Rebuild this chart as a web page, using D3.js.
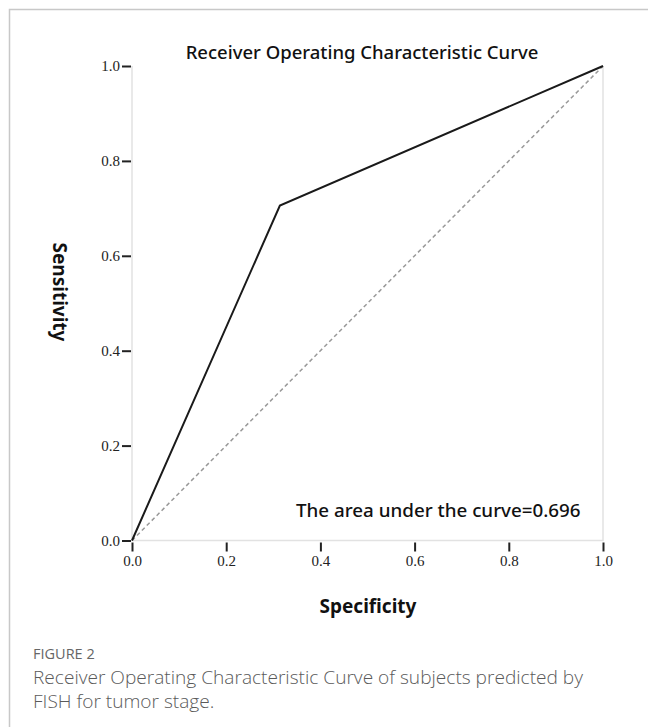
<!DOCTYPE html>
<html>
<head>
<meta charset="utf-8">
<script src="https://cdn.jsdelivr.net/npm/d3@7"></script>
<style>
  body { margin: 0; background: #fff; }
  .tick text { font-family: "Liberation Serif", "Times New Roman", serif; font-size: 15px; fill: #222; }
</style>
</head>
<body>
<div id="chart"></div>
<script>
// ROC curve points (1 - specificity, sensitivity)
const fpr = [0.0, 0.314, 1.0];
const tpr = [0.0, 0.706, 1.0];
const refLine = [0.0, 1.0];
const tickValues = [0.0, 0.2, 0.4, 0.6, 0.8, 1.0];
const aucLabel = "The area under the curve=0.696";

const W = 648, H = 727;
const svg = d3.select("#chart").append("svg")
    .attr("width", W)
    .attr("height", H);

// figure frame
svg.append("path")
    .attr("d", "M9.5," + H + "V9.5H" + W)
    .attr("fill", "none")
    .attr("stroke", "#c8c8c8")
    .attr("stroke-width", 1.5);

//----------------------------SCALES----------------------------//
const x = d3.scaleLinear().domain([0, 1]).range([132, 603]);
const y = d3.scaleLinear().domain([0, 1]).range([540.5, 66]);

// light plot frame
svg.append("path")
    .attr("d", "M" + x(0) + "," + y(1) + "V" + y(0) + "H" + x(1) + "V" + y(1))
    .attr("fill", "none")
    .attr("stroke", "#e2e2e2")
    .attr("stroke-width", 1.5);

//-----------------------------AXES-----------------------------//
const xaxis = svg.append("g")
    .attr("transform", "translate(0," + (y(0) + 2) + ")")
    .call(d3.axisBottom(x).tickValues(tickValues).tickFormat(d3.format(".1f")).tickSize(9).tickPadding(4));
const yaxis = svg.append("g")
    .attr("transform", "translate(" + (x(0) - 1) + ",0)")
    .call(d3.axisLeft(y).tickValues(tickValues).tickFormat(d3.format(".1f")).tickSize(9).tickPadding(2));
[xaxis, yaxis].forEach(function(g) {
  g.select(".domain").remove();
  g.selectAll(".tick line").attr("stroke", "#222").attr("stroke-width", 2);
});

//----------------------------LINES-----------------------------//
svg.append("path")
    .datum(refLine)
    .attr("fill", "none")
    .attr("stroke", "#999")
    .attr("stroke-width", 1.5)
    .attr("stroke-dasharray", "4,3")
    .attr("d", d3.line().x(d => x(d)).y(d => y(d)));

svg.append("path")
    .datum(fpr.map((f, i) => [f, tpr[i]]))
    .attr("fill", "none")
    .attr("stroke", "#1a1a1a")
    .attr("stroke-width", 2)
    .attr("d", d3.line().x(d => x(d[0])).y(d => y(d[1])));

//----------------------------TEXT------------------------------//
const sans = "'Noto Sans', sans-serif";
svg.append("text")
    .attr("x", 362).attr("y", 59)
    .attr("text-anchor", "middle")
    .style("font-family", sans).style("font-size", "18.5px").style("font-weight", 500)
    .attr("fill", "#111")
    .text("Receiver Operating Characteristic Curve");

svg.append("text")
    .attr("x", 296).attr("y", 517)
    .style("font-family", sans).style("font-size", "18.8px").style("font-weight", 500)
    .attr("fill", "#111")
    .text(aucLabel);

svg.append("text")
    .attr("x", 368).attr("y", 613)
    .attr("text-anchor", "middle")
    .style("font-family", sans).style("font-size", "19px").style("font-weight", 700)
    .attr("fill", "#111")
    .text("Specificity");

svg.append("text")
    .attr("transform", "translate(53,292) rotate(90)")
    .attr("text-anchor", "middle")
    .style("font-family", sans).style("font-size", "19px").style("font-weight", 700)
    .attr("fill", "#111")
    .text("Sensitivity");

// caption
const cap = "'Open Sans', 'Noto Sans', sans-serif";
svg.append("text")
    .attr("x", 33).attr("y", 659)
    .style("font-family", cap).style("font-size", "14.5px")
    .attr("fill", "#666")
    .text("FIGURE 2");
svg.append("text")
    .attr("x", 33).attr("y", 684)
    .style("font-family", cap).style("font-size", "19.1px").style("font-weight", 300)
    .attr("fill", "#5a5a5a")
    .text("Receiver Operating Characteristic Curve of subjects predicted by");
svg.append("text")
    .attr("x", 33).attr("y", 708)
    .style("font-family", cap).style("font-size", "19.1px").style("font-weight", 300)
    .attr("fill", "#5a5a5a")
    .text("FISH for tumor stage.");
</script>
</body>
</html>
